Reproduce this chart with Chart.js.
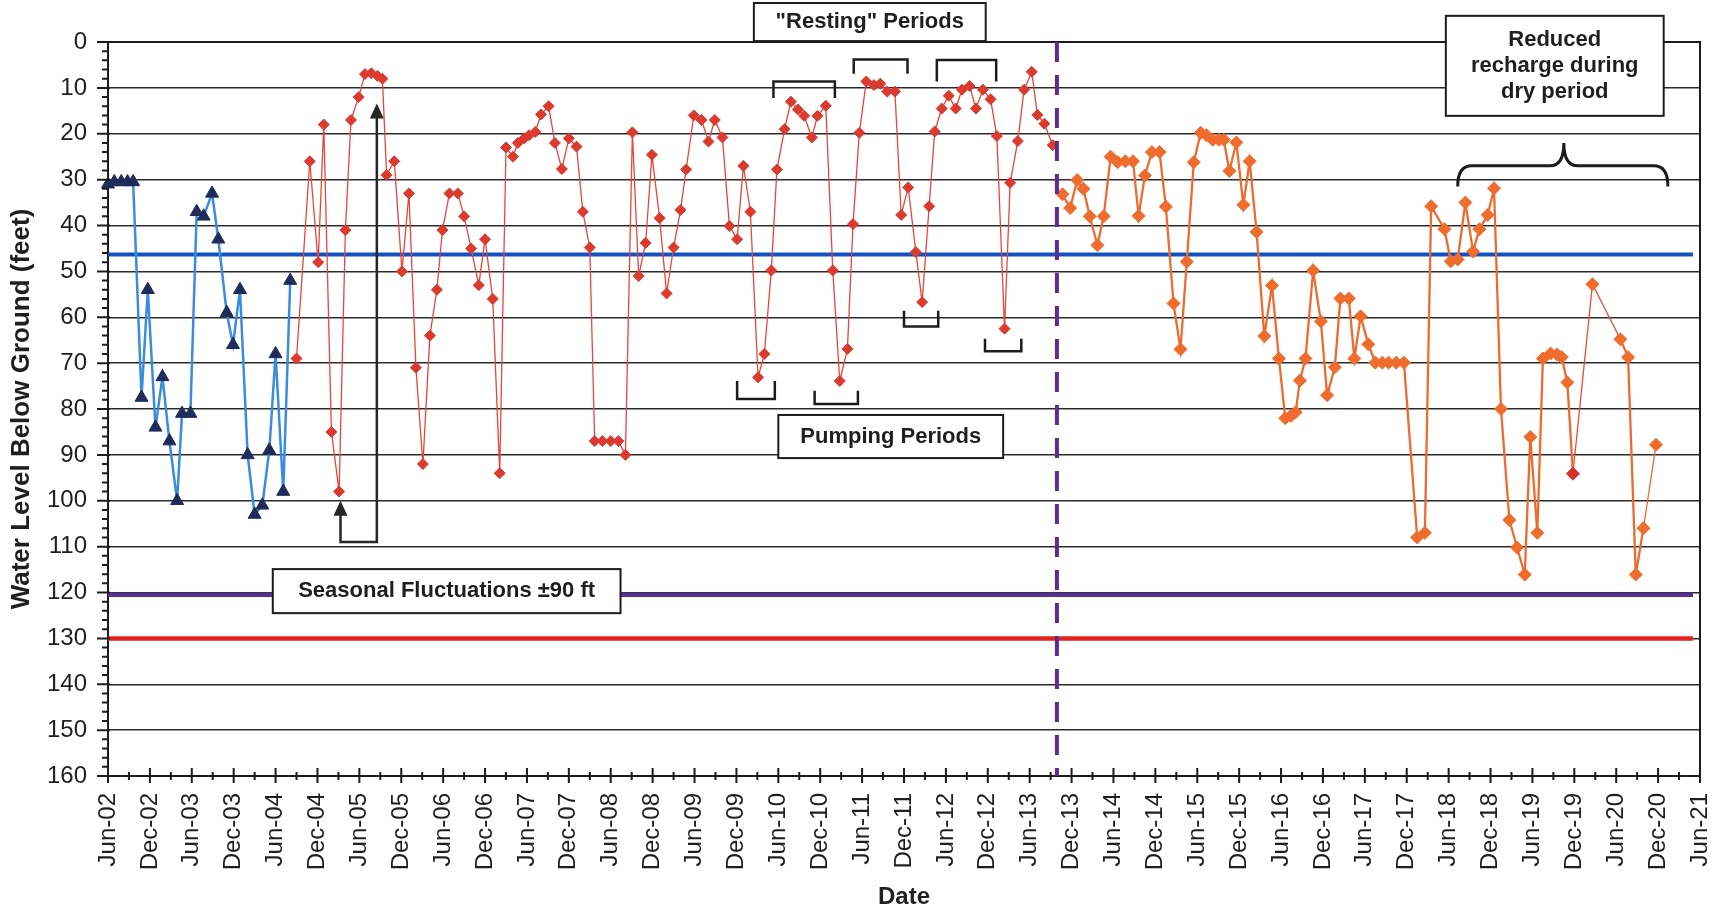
<!DOCTYPE html>
<html>
<head>
<meta charset="utf-8">
<script src="https://cdn.jsdelivr.net/npm/chart.js@4.4.1/dist/chart.umd.min.js"></script>
<style>
  html, body { margin: 0; padding: 0; background: #fff; }
  #wrap { width: 1728px; height: 913px; }
</style>
</head>
<body>
<div id="wrap"><canvas id="levels" width="1728" height="913"></canvas></div>
<script>
// months counted from Jun-02 (0) to Jun-21 (228)
const xTickLabels = ['Jun-02','Dec-02','Jun-03','Dec-03','Jun-04','Dec-04','Jun-05','Dec-05',
  'Jun-06','Dec-06','Jun-07','Dec-07','Jun-08','Dec-08','Jun-09','Dec-09','Jun-10','Dec-10',
  'Jun-11','Dec-11','Jun-12','Dec-12','Jun-13','Dec-13','Jun-14','Dec-14','Jun-15','Dec-15',
  'Jun-16','Dec-16','Jun-17','Dec-17','Jun-18','Dec-18','Jun-19','Dec-19','Jun-20','Dec-20','Jun-21'];

const blueMonths = [0,0.9,1.9,2.8,3.6,4.8,5.7,6.8,7.8,8.8,9.9,10.6,11.8,12.7,13.7,14.9,15.8,17,17.9,18.9,20,21,22.1,23.1,24,25.1,26.1];
const blueDepth = [31,30.5,30.5,30.5,30.5,77.5,54,84,73,87,100,81,81,37,38,33,43,59,66,54,90,103,101,89,68,98,52];

const redMonths = [27.0,28.9,30.1,30.9,32.0,33.1,34.0,34.8,35.9,36.8,
  37.7,38.6,39.3,39.9,41.0,42.1,43.1,44.1,45.1,46.1,
  47.1,47.9,48.9,50.1,51.0,52.0,53.1,54.0,55.1,56.1,
  57.0,58.0,58.7,59.6,60.3,61.2,62.0,63.1,64.0,65.0,
  66.0,67.1,68.0,69.0,69.7,70.8,72.0,73.1,74.1,75.1,
  76.0,77.0,77.9,79.0,80.0,81.0,82.0,82.8,83.9,85.0,
  86.0,86.9,88.0,89.0,90.1,91.0,92.0,93.1,94.0,95.0,
  95.8,96.9,97.8,98.8,99.7,100.8,101.6,102.8,103.8,104.8,
  105.9,106.7,107.6,108.6,109.7,110.6,111.6,112.7,113.6,114.6,
  115.7,116.6,117.6,118.4,119.4,120.4,121.4,122.3,123.4,124.3,
  125.3,126.4,127.3,128.4,129.2,130.3,131.2,132.3,133.1,134.1,
  135.3];
const redDepth = [69,26,48,18,85,98,41,17,12,7,
  6.8,7.4,8,29,26,50,33,71,92,64,
  54,41,33,33,38,45,53,43,56,94,
  23,25,22,21,20.3,19.6,15.8,14,22,27.7,
  21,22.8,37,44.8,87,87,87,87,90,19.7,
  51,43.8,24.6,38.4,54.8,44.8,36.6,27.8,16,17,
  21.7,17,20.8,40.1,43,27,37,73.1,68,49.8,
  27.8,19,13,14.7,16.1,20.8,16.1,13.9,49.8,73.9,
  66.9,39.7,19.8,8.6,9.4,9.1,10.8,10.8,37.7,31.7,
  45.8,56.7,35.8,19.5,14.5,11.7,14.5,10.4,9.6,14.5,
  10.4,12.5,20.5,62.5,30.7,21.6,10.4,6.5,15.9,17.8,
  22.5];

const orangeMonths = [136.7,137.8,138.8,139.7,140.6,141.7,142.6,143.6,144.6,145.7,
  146.8,147.6,148.5,149.5,150.6,151.5,152.6,153.6,154.5,155.5,
  156.5,157.3,158.2,159.1,159.8,160.6,161.6,162.6,163.5,164.5,
  165.6,166.7,167.7,168.6,169.4,170.1,170.7,171.5,172.6,173.7,
  174.6,175.7,176.5,177.7,178.5,179.4,180.5,181.5,182.5,183.4,
  184.5,185.6,187.5,188.6,189.5,191.4,192.3,193.3,194.4,195.5,
  196.4,197.6,198.5,199.5,200.7,201.8,202.9,203.7,204.7,205.5,
  206.6,207.5,208.2,209.0,209.8,212.6,216.6,217.7,218.8,219.9,
  221.7];
const orangeDepth = [33.2,36.2,30.1,32,38,44.3,38,25,26.2,26,
  26,37.9,29.1,24,24,35.9,57,67,47.9,26.2,
  19.8,20.3,21.3,21.3,21.3,28.1,21.9,35.5,26,41.4,
  64.1,53.1,69,82,81.5,80.7,73.8,69,49.8,60.9,
  77,70.9,55.9,55.9,69,59.8,65.9,69.9,69.9,69.9,
  69.9,69.9,108,107,35.8,40.8,47.8,47.4,35,45.7,
  40.8,37.7,31.9,80,104.2,110.2,116.1,86.1,107,69,
  67.9,68.1,68.7,74.2,94.1,52.8,64.8,68.7,116.1,106,
  87.8];

// reference levels (ft): average level, seasonal low, pump intake
const refLevels = [46.3, 120.5, 130];
const changeMonth = 135.9;

const pts = (ms, vs) => ms.map((m, i) => ({x: m, y: vs[i]}));
const flat = v => [{x: 0, y: v}, {x: 227, y: v}];

const FONT = "'Liberation Sans', Arial, Helvetica, sans-serif";
Chart.defaults.font.family = FONT;
Chart.defaults.color = '#1f1f1f';

const redDot = 74; // one reading plotted red in the late record

function textBox(ctx, X, Y, m0, m1, v0, v1, lines, lineH) {
  const l = X(m0), r = X(m1), t = Y(v0), b = Y(v1);
  ctx.fillStyle = '#fff';
  ctx.fillRect(l, t, r - l, b - t);
  ctx.strokeStyle = '#1c1c1c';
  ctx.lineWidth = 2;
  ctx.strokeRect(l, t, r - l, b - t);
  ctx.fillStyle = '#1f1f1f';
  ctx.font = 'bold 22px ' + FONT;
  ctx.textAlign = 'center';
  ctx.textBaseline = 'middle';
  const cy = (t + b) / 2;
  lines.forEach((s, i) => ctx.fillText(s, (l + r) / 2, cy + (i - (lines.length - 1) / 2) * lineH));
}

const decor = {
  id: 'decor',
  beforeDatasetsDraw(chart) {
    const {ctx, chartArea: a} = chart;
    ctx.save();
    ctx.strokeStyle = '#1c1c1c';
    ctx.lineWidth = 2;
    ctx.beginPath();
    ctx.moveTo(a.left, a.top);
    ctx.lineTo(a.right, a.top);
    ctx.lineTo(a.right, a.bottom);
    ctx.stroke();
    ctx.restore();
  },
  afterDatasetsDraw(chart) {
    const {ctx, chartArea: a, scales} = chart;
    const X = v => scales.x.getPixelForValue(v);
    const Y = v => scales.y.getPixelForValue(v);
    ctx.save();

    // tick marks
    ctx.strokeStyle = '#1c1c1c';
    ctx.lineWidth = 2;
    ctx.beginPath();
    for (let v = 0; v <= 160; v += 2) {
      const major = v % 10 === 0;
      ctx.moveTo(a.left - (major ? 11 : 6), Y(v));
      ctx.lineTo(a.left + (major ? 2 : 0), Y(v));
    }
    for (let m = 0; m <= 228; m += 3) {
      const major = m % 6 === 0;
      ctx.moveTo(X(m), a.bottom - (major ? 8 : 4));
      ctx.lineTo(X(m), a.bottom + (major ? 7 : 4));
    }
    ctx.stroke();

    // seasonal range arrow
    ctx.strokeStyle = '#262626';
    ctx.fillStyle = '#262626';
    ctx.lineWidth = 2.5;
    ctx.beginPath();
    ctx.moveTo(X(33.3), Y(100) + 12);
    ctx.lineTo(X(33.3), Y(109));
    ctx.lineTo(X(38.5), Y(109));
    ctx.lineTo(X(38.5), Y(13.4) + 12);
    ctx.stroke();
    [[33.3, 100], [38.5, 13.4]].forEach(([m, v]) => {
      const px = X(m), py = Y(v);
      ctx.beginPath();
      ctx.moveTo(px, py);
      ctx.lineTo(px - 7, py + 15);
      ctx.lineTo(px + 7, py + 15);
      ctx.closePath();
      ctx.fill();
    });

    // resting brackets (open downward) and pumping brackets (open upward)
    ctx.strokeStyle = '#1c1c1c';
    ctx.lineWidth = 2.5;
    const bracket = (m0, m1, flatV, endV) => {
      ctx.beginPath();
      ctx.moveTo(X(m0), Y(endV));
      ctx.lineTo(X(m0), Y(flatV));
      ctx.lineTo(X(m1), Y(flatV));
      ctx.lineTo(X(m1), Y(endV));
      ctx.stroke();
    };
    bracket(95.3, 104.1, 8.6, 12.2);
    bracket(106.8, 114.5, 3.8, 6.9);
    bracket(118.7, 127.2, 3.9, 8.6);
    bracket(90.1, 95.5, 77.8, 73.9);
    bracket(101.2, 107.4, 78.9, 76);
    bracket(114.0, 118.9, 62, 58.6);
    bracket(125.6, 130.8, 67.4, 64.7);

    // curly brace over the dry period
    const bx0 = X(193.3), bx1 = X(223.4), bm = X(208.5);
    const yEnd = Y(31.5), yFlat = Y(27), yTip = Y(22);
    const r = 14;
    ctx.lineWidth = 3;
    ctx.beginPath();
    ctx.moveTo(bx0, yEnd);
    ctx.quadraticCurveTo(bx0, yFlat, bx0 + r, yFlat);
    ctx.lineTo(bm - r, yFlat);
    ctx.quadraticCurveTo(bm, yFlat, bm, yTip);
    ctx.quadraticCurveTo(bm, yFlat, bm + r, yFlat);
    ctx.lineTo(bx1 - r, yFlat);
    ctx.quadraticCurveTo(bx1, yFlat, bx1, yEnd);
    ctx.stroke();

    // labels
    textBox(ctx, X, Y, 92.5, 125.7, -8.5, -0.2, ['"Resting" Periods'], 26);
    textBox(ctx, X, Y, 96, 128.2, 81.3, 90.7, ['Pumping Periods'], 26);
    textBox(ctx, X, Y, 23.6, 73.4, 114.9, 124.5, ['Seasonal Fluctuations \u00b190 ft'], 26);
    textBox(ctx, X, Y, 191.6, 222.8, -5.7, 16.1, ['Reduced', 'recharge during', 'dry period'], 26);

    ctx.restore();
  }
};

new Chart(document.getElementById('levels'), {
  type: 'line',
  data: {
    datasets: [
      {
        data: pts(blueMonths, blueDepth),
        borderColor: '#3a8ddc',
        borderWidth: 2.5,
        pointStyle: 'triangle',
        pointRadius: 7.5,
        pointBackgroundColor: '#1f2b5a',
        pointBorderColor: '#1f2b5a',
        pointBorderWidth: 1,
        order: 1
      },
      {
        data: pts(redMonths, redDepth),
        borderColor: '#e8453b',
        borderWidth: 1.3,
        pointStyle: 'rectRot',
        pointRadius: 5.5,
        pointBackgroundColor: '#dc3a2f',
        pointBorderColor: '#dc3a2f',
        pointBorderWidth: 1,
        order: 1
      },
      {
        data: pts(orangeMonths, orangeDepth),
        borderColor: '#ec6b2e',
        borderWidth: 2.3,
        segment: {
          borderWidth: c => (c.p0DataIndex === redDot || c.p0DataIndex === redDot + 1 || c.p0DataIndex === orangeMonths.length - 2) ? 1.3 : undefined,
          borderColor: c => (c.p0DataIndex === redDot || c.p0DataIndex === redDot + 1) ? '#ea4d35' : undefined
        },
        pointStyle: 'rectRot',
        pointRadius: 6.5,
        pointBackgroundColor: c => c.dataIndex === redDot ? '#d7312b' : '#f06c2c',
        pointBorderColor: c => c.dataIndex === redDot ? '#d7312b' : '#f06c2c',
        pointBorderWidth: 1,
        order: 1
      },
      { data: flat(refLevels[0]), borderColor: '#1450c2', borderWidth: 4, pointRadius: 0, order: 3 },
      { data: flat(refLevels[1]), borderColor: '#58318f', borderWidth: 4.5, pointRadius: 0, order: 3 },
      { data: flat(refLevels[2]), borderColor: '#e4211d', borderWidth: 4.5, pointRadius: 0, order: 3 },
      {
        data: [{x: changeMonth, y: 0}, {x: changeMonth, y: 160}],
        borderColor: '#5b2d90',
        borderWidth: 4,
        borderDash: [20, 13],
        pointRadius: 0,
        order: 0
      }
    ]
  },
  options: {
    responsive: false,
    animation: false,
    devicePixelRatio: 1,
    layout: { padding: { top: 42, right: 28, bottom: 0, left: 0 } },
    datasets: { line: { clip: false, tension: 0 } },
    plugins: {
      legend: { display: false },
      tooltip: { enabled: false }
    },
    scales: {
      x: {
        type: 'linear',
        min: 0,
        max: 228,
        afterFit: s => { s.height = 137; s.paddingLeft = 0; s.paddingRight = 0; },
        ticks: {
          stepSize: 6,
          autoSkip: false,
          minRotation: 90,
          maxRotation: 90,
          padding: 17,
          color: '#1f1f1f',
          font: { size: 24 },
          callback: v => xTickLabels[Math.round(v / 6)]
        },
        grid: { drawOnChartArea: false, drawTicks: false },
        border: { display: true, color: '#1c1c1c', width: 2 },
        title: {
          display: true,
          text: 'Date',
          color: '#1f1f1f',
          font: { size: 24, weight: 'bold' },
          padding: { top: 0, bottom: 1 }
        }
      },
      y: {
        type: 'linear',
        reverse: true,
        min: 0,
        max: 160,
        afterFit: s => { s.width = 108; },
        ticks: {
          stepSize: 10,
          padding: 21,
          color: '#1f1f1f',
          font: { size: 24 }
        },
        grid: { color: '#2b2b2b', lineWidth: 1.5, drawTicks: false },
        border: { display: true, color: '#1c1c1c', width: 2 },
        title: {
          display: true,
          text: 'Water Level Below Ground (feet)',
          color: '#1f1f1f',
          font: { size: 26, weight: 'bold' },
          padding: { top: 6, bottom: 0 }
        }
      }
    }
  },
  plugins: [decor]
});
</script>
</body>
</html>
